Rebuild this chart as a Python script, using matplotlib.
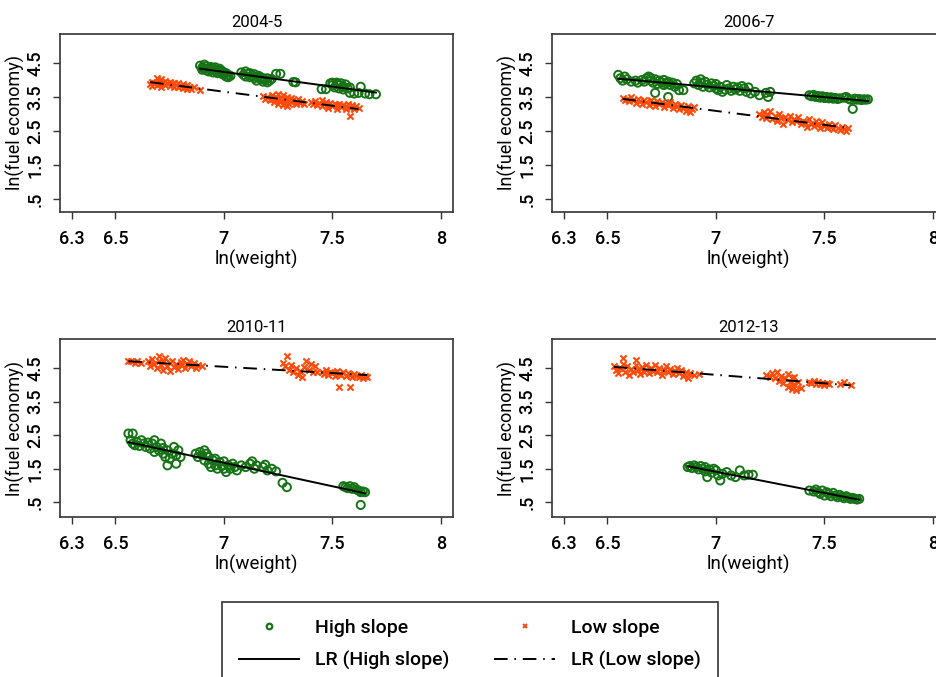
import numpy as np
import matplotlib
matplotlib.use("Agg")
import matplotlib.pyplot as plt
from matplotlib.lines import Line2D

plt.rcParams['font.family'] = ['Roboto', 'DejaVu Sans']
plt.rcParams['font.weight'] = 'medium'

titles = ["2004-5", "2006-7", "2010-11", "2012-13"]
x_ticks = [6.3, 6.5, 7, 7.5, 8]
x_ticklabels = ["6.3", "6.5", "7", "7.5", "8"]
y_ticks = [0.5, 1.5, 2.5, 3.5, 4.5]
y_ticklabels = [".5", "1.5", "2.5", "3.5", "4.5"]

# ---- 2004-5 ----
hi_0405 = [(6.89,4.42),(6.90,4.36),(6.90,4.30),(6.91,4.45),(6.91,4.33),(6.92,4.40),(6.92,4.28),(6.93,4.35),
           (6.93,4.25),(6.94,4.38),(6.94,4.30),(6.95,4.22),(6.95,4.34),(6.96,4.27),(6.96,4.37),(6.97,4.20),
           (6.97,4.30),(6.98,4.25),(6.98,4.33),(6.99,4.18),(6.99,4.27),(7.00,4.22),(7.00,4.15),(7.01,4.20),
           (7.01,4.10),(7.02,4.15),(7.02,4.08),(7.03,4.12),
           (7.08,4.22),(7.09,4.15),(7.10,4.25),(7.10,4.10),(7.11,4.18),(7.12,4.08),(7.12,4.20),(7.13,4.13),
           (7.14,4.05),(7.14,4.17),(7.15,4.10),(7.15,3.98),(7.16,4.12),(7.17,4.02),(7.17,4.08),(7.18,3.95),
           (7.18,4.05),(7.19,4.00),(7.20,4.05),(7.20,3.93),(7.21,3.98),(7.22,4.03),(7.24,4.18),(7.26,4.18),
           (7.32,3.94),(7.33,3.93),
           (7.45,3.73),(7.47,3.73),(7.49,3.90),(7.50,3.85),(7.50,3.92),(7.51,3.78),(7.52,3.88),(7.52,3.92),
           (7.53,3.75),(7.53,3.85),(7.54,3.90),(7.55,3.80),(7.55,3.72),(7.56,3.87),(7.57,3.75),(7.58,3.78),
           (7.58,3.62),(7.60,3.60),(7.62,3.62),(7.63,3.80),(7.65,3.60),(7.67,3.58),(7.70,3.58)]
lo_0405 = [(6.66,3.88),(6.67,3.95),(6.67,3.82),(6.68,3.90),(6.69,4.05),(6.69,3.85),(6.70,3.98),(6.70,3.88),
           (6.71,4.02),(6.71,3.80),(6.72,3.92),(6.73,3.85),(6.73,3.97),(6.74,3.90),(6.75,3.82),(6.75,3.95),
           (6.76,3.88),(6.77,3.80),(6.77,3.92),(6.78,3.85),(6.79,3.78),(6.79,3.90),(6.80,3.83),(6.81,3.76),
           (6.81,3.87),(6.82,3.80),(6.83,3.74),(6.83,3.84),(6.84,3.78),(6.85,3.72),(6.86,3.78),(6.89,3.70),
           (7.18,3.52),(7.19,3.45),(7.20,3.50),(7.21,3.40),(7.22,3.55),(7.22,3.45),(7.23,3.35),(7.24,3.50),
           (7.24,3.42),(7.25,3.58),(7.25,3.30),(7.26,3.47),(7.26,3.38),(7.27,3.55),(7.27,3.25),(7.28,3.45),
           (7.28,3.35),(7.29,3.50),(7.29,3.22),(7.30,3.40),(7.30,3.30),(7.31,3.48),(7.31,3.35),(7.32,3.42),
           (7.33,3.28),(7.33,3.38),(7.34,3.45),(7.35,3.32),(7.36,3.38),(7.37,3.30),
           (7.40,3.35),(7.41,3.28),(7.42,3.38),(7.43,3.25),(7.44,3.33),(7.45,3.42),(7.45,3.22),(7.46,3.30),
           (7.47,3.36),(7.48,3.18),(7.48,3.27),(7.49,3.32),(7.50,3.22),(7.51,3.28),(7.52,3.15),(7.52,3.25),
           (7.53,3.30),(7.54,3.20),(7.55,3.27),(7.56,3.15),(7.56,3.23),(7.57,3.30),(7.58,3.18),(7.58,2.95),
           (7.59,3.25),(7.60,3.15),(7.61,3.22),(7.62,3.18)]

# ---- 2006-7 ----
hi_0607 = [(6.55,4.15),(6.56,4.05),(6.57,3.98),(6.58,4.10),(6.59,4.02),(6.61,3.95),(6.63,3.98),(6.64,3.92),
           (6.66,4.00),(6.67,3.95),(6.68,4.05),(6.69,4.10),(6.70,3.98),(6.70,4.06),(6.71,3.92),(6.72,4.02),
           (6.72,3.62),(6.73,3.88),(6.74,3.98),(6.75,3.92),(6.76,3.85),(6.76,4.00),(6.77,3.90),(6.78,3.95),
           (6.78,3.50),(6.79,3.85),(6.80,3.92),(6.81,3.80),(6.82,3.88),(6.83,3.70),(6.85,3.70),
           (6.90,3.90),(6.91,3.98),(6.92,3.85),(6.93,4.02),(6.93,3.92),(6.94,3.80),(6.95,3.95),(6.96,3.86),
           (6.97,3.78),(6.98,3.90),(6.99,3.82),(7.00,3.75),(7.00,3.88),(7.01,3.70),(7.02,3.80),(7.03,3.65),
           (7.04,3.72),(7.05,3.85),(7.06,3.75),(7.07,3.68),(7.08,3.80),(7.09,3.72),(7.10,3.78),(7.11,3.68),
           (7.12,3.82),(7.13,3.75),(7.14,3.65),(7.15,3.78),(7.16,3.60),(7.18,3.65),(7.20,3.55),(7.23,3.62),
           (7.24,3.50),(7.25,3.65),
           (7.43,3.55),(7.44,3.52),(7.45,3.56),(7.46,3.50),(7.47,3.53),(7.48,3.48),(7.49,3.52),(7.50,3.47),
           (7.51,3.50),(7.52,3.46),(7.53,3.49),(7.54,3.45),(7.55,3.47),(7.56,3.44),(7.57,3.46),
           (7.59,3.48),(7.60,3.50),(7.61,3.45),(7.62,3.42),(7.63,3.15),(7.64,3.45),(7.65,3.42),(7.66,3.44),
           (7.67,3.41),(7.68,3.43),(7.69,3.42),(7.70,3.43)]
lo_0607 = [(6.57,3.48),(6.58,3.42),(6.59,3.45),(6.60,3.38),(6.61,3.50),(6.62,3.40),(6.63,3.33),(6.64,3.45),
           (6.65,3.38),(6.66,3.30),(6.67,3.42),(6.68,3.35),(6.69,3.25),(6.70,3.40),(6.71,3.32),(6.72,3.22),
           (6.73,3.38),(6.74,3.28),(6.75,3.35),(6.76,3.20),(6.77,3.30),(6.78,3.25),(6.79,3.35),(6.80,3.18),
           (6.81,3.28),(6.82,3.22),(6.83,3.15),(6.84,3.25),(6.85,3.18),(6.86,3.10),(6.87,3.22),(6.88,3.05),
           (6.89,3.15),(6.90,3.20),
           (7.20,3.00),(7.21,2.92),(7.22,3.05),(7.23,2.88),(7.24,2.98),(7.25,3.08),(7.26,2.85),(7.27,2.95),
           (7.28,2.80),(7.29,3.00),(7.30,2.88),(7.31,2.72),(7.32,2.92),(7.33,2.82),(7.34,2.95),(7.35,2.75),
           (7.36,2.85),(7.37,2.78),(7.38,2.90),(7.39,2.70),(7.40,2.80),(7.41,2.75),(7.42,2.62),(7.43,2.85),
           (7.44,2.72),(7.45,2.65),(7.46,2.78),(7.47,2.70),(7.48,2.60),(7.49,2.75),(7.50,2.66),(7.51,2.58),
           (7.52,2.70),(7.53,2.62),(7.54,2.55),(7.55,2.68),(7.56,2.60),(7.57,2.52),(7.58,2.62),(7.59,2.56),
           (7.60,2.50),(7.61,2.58)]

# ---- 2010-11 ----
hi_1011 = [(6.56,2.55),(6.57,2.35),(6.58,2.55),(6.58,2.25),(6.59,2.20),(6.60,2.30),(6.61,2.18),(6.62,2.35),
           (6.63,2.25),(6.64,2.15),(6.65,2.28),(6.66,2.10),(6.67,2.25),(6.68,2.35),(6.68,2.00),(6.69,2.15),
           (6.70,2.05),(6.71,2.25),(6.72,1.95),(6.72,2.12),(6.73,1.85),(6.74,1.60),(6.74,2.05),(6.75,1.80),
           (6.76,1.95),(6.77,2.15),(6.78,1.65),(6.78,1.90),(6.79,2.05),(6.80,1.85),
           (6.87,1.95),(6.88,1.85),(6.89,2.00),(6.90,1.90),(6.91,2.05),(6.91,1.75),(6.92,1.95),(6.93,1.65),
           (6.93,1.85),(6.94,1.55),(6.95,1.75),(6.96,1.60),(6.96,1.80),(6.97,1.50),(6.98,1.70),(6.99,1.58),
           (7.00,1.50),(7.00,1.72),(7.01,1.40),(7.02,1.60),(7.03,1.50),(7.04,1.65),(7.05,1.55),(7.06,1.45),
           (7.08,1.60),(7.10,1.55),(7.12,1.65),(7.13,1.72),(7.14,1.50),(7.15,1.60),(7.18,1.55),(7.19,1.62),
           (7.20,1.45),(7.22,1.50),(7.24,1.42),(7.27,1.08),(7.29,0.95),
           (7.55,0.98),(7.56,0.95),(7.57,0.92),(7.58,0.98),(7.59,0.90),(7.60,0.95),(7.61,0.88),(7.62,0.85),
           (7.63,0.80),(7.63,0.42),(7.64,0.82),(7.65,0.80)]
lo_1011 = [(6.56,4.72),(6.57,4.70),(6.59,4.66),(6.60,4.72),(6.62,4.65),(6.65,4.70),(6.66,4.55),(6.67,4.78),
           (6.68,4.62),(6.69,4.50),(6.70,4.70),(6.70,4.85),(6.71,4.58),(6.72,4.45),(6.72,4.68),(6.73,4.80),
           (6.74,4.55),(6.75,4.65),(6.75,4.42),(6.76,4.72),(6.77,4.52),(6.78,4.62),(6.79,4.48),(6.80,4.68),
           (6.80,4.58),(6.81,4.75),(6.82,4.50),(6.83,4.62),(6.84,4.70),(6.85,4.55),(6.86,4.65),(6.87,4.50),
           (6.88,4.58),(6.90,4.55),
           (7.27,4.65),(7.28,4.55),(7.29,4.85),(7.30,4.45),(7.31,4.60),(7.32,4.38),(7.33,4.50),(7.34,4.30),
           (7.35,4.42),(7.36,4.25),(7.37,4.52),(7.38,4.70),(7.39,4.45),(7.40,4.62),(7.41,4.38),(7.42,4.55),
           (7.43,4.40),
           (7.45,4.38),(7.46,4.32),(7.47,4.45),(7.48,4.30),(7.49,4.40),(7.50,4.35),(7.51,4.28),(7.52,4.42),
           (7.53,3.93),(7.53,4.33),(7.54,4.30),(7.55,4.38),(7.56,4.28),(7.57,4.35),(7.58,3.93),(7.58,4.30),
           (7.59,4.25),(7.60,4.32),(7.61,4.28),(7.62,4.25),(7.63,4.30),(7.64,4.22),(7.65,4.27),(7.66,4.25)]

# ---- 2012-13 ----
hi_1213 = [(6.87,1.55),(6.88,1.58),(6.89,1.52),(6.90,1.60),(6.91,1.55),(6.92,1.48),(6.93,1.58),(6.94,1.50),
           (6.95,1.42),(6.95,1.55),(6.96,1.25),(6.97,1.48),(6.98,1.38),(6.99,1.50),(7.00,1.45),(7.01,1.30),
           (7.02,1.15),(7.03,1.35),(7.05,1.40),(7.07,1.30),(7.09,1.25),(7.11,1.45),(7.13,1.30),(7.15,1.32),
           (7.17,1.32),
           (7.43,0.85),(7.45,0.82),(7.46,0.88),(7.47,0.80),(7.48,0.75),(7.49,0.85),(7.50,0.70),(7.51,0.80),
           (7.52,0.75),(7.53,0.68),(7.54,0.78),(7.55,0.70),(7.56,0.65),(7.57,0.72),(7.58,0.66),(7.59,0.62),
           (7.60,0.68),(7.61,0.64),(7.62,0.60),(7.63,0.63),(7.64,0.60),(7.65,0.58),(7.66,0.60)]
lo_1213 = [(6.53,4.55),(6.54,4.45),(6.55,4.35),(6.56,4.50),(6.57,4.80),(6.57,4.62),(6.58,4.40),(6.59,4.55),
           (6.60,4.30),(6.61,4.48),(6.62,4.38),(6.63,4.75),(6.63,4.58),(6.64,4.45),(6.65,4.32),(6.66,4.52),
           (6.67,4.40),(6.68,4.58),(6.69,4.35),(6.70,4.50),(6.71,4.42),(6.72,4.60),(6.73,4.38),(6.74,4.50),
           (6.75,4.30),(6.76,4.45),(6.77,4.55),(6.78,4.38),(6.79,4.48),(6.80,4.32),(6.81,4.42),(6.82,4.50),
           (6.83,4.35),(6.84,4.45),(6.85,4.28),(6.86,4.40),(6.87,4.20),(6.88,4.35),(6.90,4.30),(6.92,4.32),
           (7.23,4.30),(7.25,4.25),(7.26,4.35),(7.27,4.20),(7.28,4.40),(7.29,4.12),(7.30,4.28),(7.31,4.05),
           (7.32,4.20),(7.33,3.95),(7.33,4.32),(7.34,4.10),(7.35,3.88),(7.35,4.22),(7.36,4.02),(7.37,3.85),
           (7.38,4.08),(7.39,3.92),(7.36,4.25),
           (7.43,4.10),(7.44,4.05),(7.45,4.12),(7.46,4.03),(7.47,4.08),(7.48,4.02),(7.49,4.06),(7.50,4.00),
           (7.51,4.05),(7.52,4.02),(7.57,4.03),(7.59,4.08),(7.62,4.00)]

high_series = [hi_0405, hi_0607, hi_1011, hi_1213]
low_series = [lo_0405, lo_0607, lo_1011, lo_1213]

GREEN = '#167316'
ORANGE = '#ff4b0a'
SPINE = '#333333'
DASHDOT = (0, (7, 3.5, 0.8, 3.5))

W, H = 937, 677
fig = plt.figure(figsize=(W / 100, H / 100), dpi=100)

# axes boxes in pixels: left, top, width, height
boxes = [(60, 34, 393, 178), (552, 34, 393, 178), (60, 339, 393, 178), (552, 339, 393, 178)]
ylims = [(0.12, 5.35), (0.12, 5.35), (0.06, 5.37), (0.06, 5.37)]

for i, (l, t, w, h) in enumerate(boxes):
    ax = fig.add_axes([l / W, 1 - (t + h) / H, w / W, h / H])
    hx, hy = np.array(high_series[i]).T
    lx, ly = np.array(low_series[i]).T
    ax.scatter(hx, hy, s=34, facecolors='none', edgecolors=GREEN, linewidths=1.4, zorder=2)
    ax.scatter(lx, ly, s=20, marker='x', color=ORANGE, linewidths=1.5, zorder=2)
    # linear fits
    bh = np.polyfit(hx, hy, 1)
    xs = np.array([hx.min(), hx.max()])
    ax.plot(xs, np.polyval(bh, xs), color='black', lw=1.4, zorder=3)
    bl = np.polyfit(lx, ly, 1)
    xs = np.array([lx.min(), lx.max()])
    ax.plot(xs, np.polyval(bl, xs), color='black', lw=1.4, linestyle=DASHDOT, zorder=3)

    ax.set_xlim(6.245, 8.055)
    ax.set_ylim(*ylims[i])
    ax.set_xticks(x_ticks)
    ax.set_xticklabels(x_ticklabels)
    ax.set_yticks(y_ticks)
    ax.set_yticklabels(y_ticklabels, rotation=90, va='center')
    ax.tick_params(axis='both', direction='out', length=5, width=1.0, color=SPINE,
                   labelsize=13, labelcolor='black')
    ax.tick_params(axis='x', pad=8)
    ax.tick_params(axis='y', pad=6)
    for sp in ax.spines.values():
        sp.set_color(SPINE)
        sp.set_linewidth(1.2)
    ax.set_title(titles[i], fontsize=12, pad=5)
    ax.set_xlabel("ln(weight)", fontsize=13.5, labelpad=1)
    ax.set_ylabel("ln(fuel economy)", fontsize=13, labelpad=1)

handles = [
    Line2D([], [], marker='o', linestyle='none', markerfacecolor='none', markeredgecolor=GREEN,
           markeredgewidth=1.6, markersize=4),
    Line2D([], [], color='black', lw=1.4),
    Line2D([], [], marker='x', linestyle='none', color=ORANGE, markeredgewidth=1.4, markersize=3.5),
    Line2D([], [], color='black', lw=1.4, linestyle=DASHDOT),
]
labels = ["High slope", "LR (High slope)", "Low slope", "LR (Low slope)"]
leg = fig.legend(handles, labels, ncol=2, loc='upper left',
                 bbox_to_anchor=(222 / W, 1 - 602 / H), fontsize=14,
                 frameon=True, fancybox=False, edgecolor=SPINE, framealpha=1,
                 handlelength=3.1, handletextpad=0.85, columnspacing=2.3,
                 labelspacing=0.75, borderpad=0.85, borderaxespad=0)
leg.get_frame().set_linewidth(1.2)

fig.savefig("out.png", dpi=100)
